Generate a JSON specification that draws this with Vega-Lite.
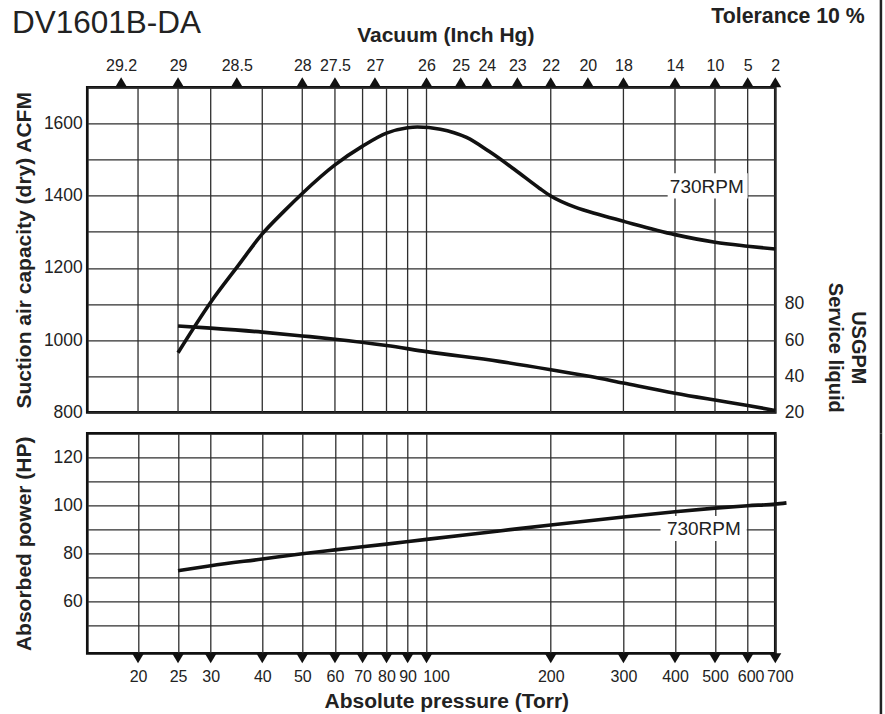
{
  "$schema": "https://vega.github.io/schema/vega-lite/v6.json",
  "background": "white",
  "padding": {"left": 10.3, "top": -3.7, "right": 0, "bottom": 0},
  "spacing": 21,
  "bounds": "flush",
  "config": {
    "font": "Liberation Sans",
    "view": {"stroke": "#111", "strokeWidth": 2.7},
    "axis": {
      "domain": false, "ticks": false, "grid": false,
      "gridColor": "#2e2e2e", "gridWidth": 1.3, "gridOpacity": 1,
      "labelColor": "#222", "titleColor": "#222",
      "labelFont": "Liberation Sans", "titleFont": "Liberation Sans",
      "titleFontWeight": "bold", "titleFontSize": 21, "labelFontSize": 16
    }
  },
  "datasets": {
    "ticks": [
      {"torr": 20}, {"torr": 25}, {"torr": 30}, {"torr": 40}, {"torr": 50}, {"torr": 60},
      {"torr": 70}, {"torr": 80}, {"torr": 90}, {"torr": 100}, {"torr": 200}, {"torr": 300},
      {"torr": 400}, {"torr": 500}, {"torr": 600}, {"torr": 700}
    ],
    "vac": [
      {"torr": 18.2, "inhg": "29.2"}, {"torr": 25, "inhg": "29"}, {"torr": 34.7, "inhg": "28.5"},
      {"torr": 50, "inhg": "28"}, {"torr": 60, "inhg": "27.5"}, {"torr": 75, "inhg": "27"},
      {"torr": 100, "inhg": "26"}, {"torr": 121, "inhg": "25"}, {"torr": 140, "inhg": "24"},
      {"torr": 166, "inhg": "23"}, {"torr": 200, "inhg": "22"}, {"torr": 246, "inhg": "20"},
      {"torr": 300, "inhg": "18"}, {"torr": 400, "inhg": "14"}, {"torr": 500, "inhg": "10"},
      {"torr": 600, "inhg": "5"}, {"torr": 700, "inhg": "2"}
    ],
    "acfm": [
      {"p": 25, "v": 965}, {"p": 30, "v": 1105}, {"p": 35, "v": 1207}, {"p": 40, "v": 1294},
      {"p": 45, "v": 1355}, {"p": 50, "v": 1406}, {"p": 60, "v": 1485}, {"p": 70, "v": 1537},
      {"p": 80, "v": 1573}, {"p": 90, "v": 1588}, {"p": 95, "v": 1590}, {"p": 108, "v": 1584},
      {"p": 125, "v": 1561}, {"p": 142, "v": 1522}, {"p": 164, "v": 1471}, {"p": 188, "v": 1420},
      {"p": 200, "v": 1399}, {"p": 229, "v": 1368}, {"p": 263, "v": 1347}, {"p": 302, "v": 1328},
      {"p": 400, "v": 1292}, {"p": 500, "v": 1271}, {"p": 600, "v": 1260}, {"p": 700, "v": 1252}
    ],
    "gpm": [
      {"p": 25, "v": 67.8}, {"p": 30, "v": 66.6}, {"p": 40, "v": 64.4}, {"p": 50, "v": 62.3},
      {"p": 60, "v": 60.5}, {"p": 80, "v": 57}, {"p": 100, "v": 53.6}, {"p": 150, "v": 48.2},
      {"p": 200, "v": 43.6}, {"p": 250, "v": 39.8}, {"p": 300, "v": 36.2}, {"p": 400, "v": 30.6},
      {"p": 500, "v": 26.8}, {"p": 600, "v": 23.8}, {"p": 700, "v": 21}
    ],
    "hp": [
      {"p": 25, "v": 72.9}, {"p": 30, "v": 75}, {"p": 40, "v": 77.8}, {"p": 50, "v": 80},
      {"p": 60, "v": 81.6}, {"p": 80, "v": 84}, {"p": 100, "v": 86}, {"p": 150, "v": 89.5},
      {"p": 200, "v": 92}, {"p": 300, "v": 95.3}, {"p": 400, "v": 97.5}, {"p": 500, "v": 99},
      {"p": 600, "v": 100}, {"p": 700, "v": 100.7}, {"p": 745, "v": 101.2}
    ]
  },
  "vconcat": [
    {
      "width": 688,
      "height": 325,
      "layer": [
        {
          "layer": [
            {
              "data": {"name": "ticks"},
              "mark": {"type": "rule", "color": "#2e2e2e", "strokeWidth": 1.3},
              "encoding": {
                "x": {
                  "field": "torr", "type": "quantitative",
                  "scale": {"type": "log", "domain": [15.07, 700], "nice": false},
                  "axis": {
                    "orient": "top",
                    "values": [18.2, 25, 34.7, 50, 60, 75, 100, 121, 140, 166, 200, 246, 300, 400, 500, 600, 700],
                    "tickCount": 40,
                    "labelExpr": "['29.2','29','28.5','28','27.5','27','26','25','24','23','22','20','18','14','10','5','2'][indexof([18.2, 25, 34.7, 50, 60, 75, 100, 121, 140, 166, 200, 246, 300, 400, 500, 600, 700], datum.value)]",
                    "title": "Vacuum (Inch Hg)",
                    "labelPadding": 14, "titlePadding": 12, "titleX": 358,
                    "labelFontSize": 16, "labelOverlap": false, "labelFlush": false, "labelBound": false
                  }
                }
              }
            },
            {
              "data": {"name": "acfm"},
              "mark": {"type": "line", "interpolate": "monotone", "color": "#111", "strokeWidth": 3.6},
              "encoding": {
                "x": {"field": "p", "type": "quantitative"},
                "y": {
                  "field": "v", "type": "quantitative",
                  "scale": {"domain": [800, 1700], "nice": false, "zero": false},
                  "axis": {
                    "values": [800, 900, 1000, 1100, 1200, 1300, 1400, 1500, 1600, 1700],
                    "tickCount": 40,
                    "grid": true,
                    "labelExpr": "datum.value % 200 == 0 && datum.value < 1700 ? format(datum.value, 'd') : ''",
                    "title": "Suction air capacity (dry) ACFM",
                    "labelFontSize": 17.5, "labelPadding": 5, "minExtent": 45, "maxExtent": 45,
                    "titlePadding": 8, "labelOverlap": false, "labelFlush": false, "labelBound": false
                  }
                }
              }
            },
            {
              "data": {"values": [{}]},
              "mark": {"type": "rect", "fill": "white"},
              "encoding": {
                "x": {"datum": 384}, "x2": {"datum": 600},
                "y": {"datum": 1392}, "y2": {"datum": 1462}
              }
            },
            {
              "data": {"values": [{}]},
              "mark": {"type": "text", "text": "730RPM", "fontSize": 19, "color": "#222", "align": "center", "baseline": "middle"},
              "encoding": {"x": {"datum": 477.6}, "y": {"datum": 1424.8}}
            },
            {
              "data": {"name": "vac"},
              "mark": {"type": "point", "shape": "M-1.2,1L0,-1L1.2,1Z", "filled": true, "size": 100, "color": "#111", "opacity": 1},
              "encoding": {"x": {"field": "torr", "type": "quantitative"}, "y": {"datum": 1713.9}}
            },
            {
              "data": {"values": [{}]},
              "mark": {"type": "text", "text": "DV1601B-DA", "fontSize": 31.5, "color": "#222", "align": "left", "baseline": "alphabetic"},
              "encoding": {"x": {"datum": 9.9}, "y": {"datum": 1850.7}}
            },
            {
              "data": {"values": [{}]},
              "mark": {"type": "text", "text": "Tolerance 10 %", "fontSize": 21.3, "fontWeight": "bold", "color": "#222", "align": "right", "baseline": "alphabetic"},
              "encoding": {"x": {"datum": 1153}, "y": {"datum": 1878.4}}
            },
            {
              "data": {"values": [{}]},
              "mark": {"type": "rule", "color": "#222", "strokeWidth": 2.5},
              "encoding": {"x": {"datum": 1262}, "y": {"datum": 1942.2}, "y2": {"datum": 741.7}}
            }
          ]
        },
        {
          "data": {"name": "gpm"},
          "mark": {"type": "line", "interpolate": "monotone", "color": "#111", "strokeWidth": 3.6},
          "encoding": {
            "x": {"field": "p", "type": "quantitative"},
            "y": {
              "field": "v", "type": "quantitative",
              "scale": {"domain": [20, 200], "nice": false, "zero": false},
              "axis": {
                "orient": "right", "values": [20, 40, 60, 80], "tickCount": 40, "grid": false,
                "title": ["USGPM", "Service liquid"], "titleFontSize": 20, "titleLineHeight": 23,
                "titleY": 260, "titlePadding": 19.5, "labelFontSize": 17.5, "labelPadding": 9,
                "minExtent": 30, "maxExtent": 30, "labelOverlap": false, "labelFlush": false, "labelBound": false
              }
            }
          }
        }
      ],
      "resolve": {"scale": {"y": "independent"}}
    },
    {
      "width": 688,
      "height": 220,
      "layer": [
        {
          "data": {"values": [{}]},
          "mark": {"type": "rect", "fill": "white"},
          "encoding": {
            "x": {"datum": 369}, "x2": {"datum": 597},
            "y": {"datum": 85.3}, "y2": {"datum": 95.7}
          }
        },
        {
          "data": {"values": [{}]},
          "mark": {"type": "text", "text": "730RPM", "fontSize": 19, "color": "#222", "align": "center", "baseline": "middle"},
          "encoding": {"x": {"datum": 469.8}, "y": {"datum": 90.5}}
        },
        {
          "data": {"name": "hp"},
          "mark": {"type": "line", "interpolate": "monotone", "color": "#111", "strokeWidth": 3.6},
          "encoding": {
            "x": {
              "field": "p", "type": "quantitative",
              "scale": {"type": "log", "domain": [15.07, 700], "nice": false},
              "axis": {
                "values": [20, 25, 30, 40, 50, 60, 70, 80, 90, 100, 200, 300, 400, 500, 600, 700],
                "tickCount": 40,
                "grid": true, "format": "d", "title": "Absolute pressure (Torr)",
                "labelPadding": 15, "titlePadding": 6, "titleX": 359, "labelFontSize": 16,
                "labelOffset": {
                  "condition": [
                    {"test": "datum.value == 100", "value": 9.5},
                    {"test": "datum.value == 700", "value": 4.5},
                    {"test": "datum.value == 600", "value": 3}
                  ],
                  "value": 0
                },
                "labelOverlap": false, "labelFlush": false, "labelBound": false
              }
            },
            "y": {
              "field": "v", "type": "quantitative",
              "scale": {"domain": [38.5, 130.2], "nice": false, "zero": false},
              "axis": {
                "values": [50, 60, 70, 80, 90, 100, 110, 120], "tickCount": 40, "grid": true,
                "labelExpr": "datum.value % 20 == 0 ? format(datum.value, 'd') : ''",
                "title": "Absorbed power (HP)", "labelFontSize": 17.5, "labelPadding": 5,
                "minExtent": 45, "maxExtent": 45, "titlePadding": 8,
                "labelOverlap": false, "labelFlush": false, "labelBound": false
              }
            }
          }
        },
        {
          "data": {"name": "ticks"},
          "mark": {"type": "point", "shape": "M-1.2,-1L0,1L1.2,-1Z", "filled": true, "size": 100, "color": "#111", "opacity": 1},
          "encoding": {"x": {"field": "torr", "type": "quantitative"}, "y": {"datum": 36.4}}
        },
        {
          "data": {"values": [{}]},
          "mark": {"type": "rule", "color": "#222", "strokeWidth": 2.5},
          "encoding": {"x": {"datum": 1262}, "y": {"datum": 130.2}, "y2": {"datum": 13.2}}
        }
      ]
    }
  ]
}
